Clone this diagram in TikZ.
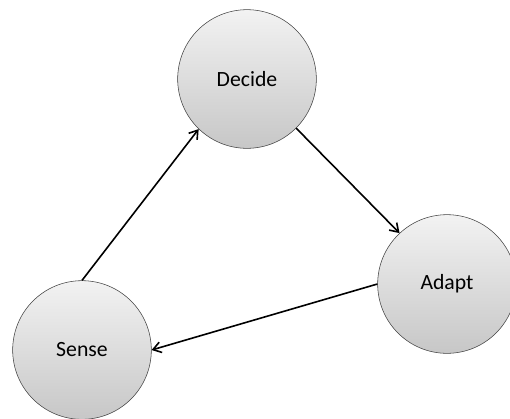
\documentclass[tikz,border=0pt]{standalone}
\usepackage{fontspec}
\setmainfont{Carlito}
\usetikzlibrary{arrows.meta}

\begin{document}
\begin{tikzpicture}[x=0.75pt,y=-0.75pt,
		phase/.style={circle,
			draw=black!75,
			thin,
			top color=black!5,
			bottom color=black!22,
			minimum size=104pt,
			inner sep=0pt,
			font=\fontsize{16.3}{19}\selectfont},
		link/.style={black,
			line width=1.2pt,
			-{Straight Barb[length=6pt,width=8pt,line width=1.2pt]}}]
		
		% Canvas
		\useasboundingbox (0,0) rectangle (510,418);
		
		% Phases
		\node[phase] (decide) at (247,79) {Decide};
		\node[phase] (adapt) at (447,284) {Adapt};
		\node[phase] (sense) at (82,350) {Sense};
		
		% Cycle
		\draw[link] (sense.north) -- (decide.226);
		\draw[link] (decide.-45) -- (adapt.133);
		\draw[link] (adapt.west) -- (sense.east);
		
	\end{tikzpicture}
\end{document}
